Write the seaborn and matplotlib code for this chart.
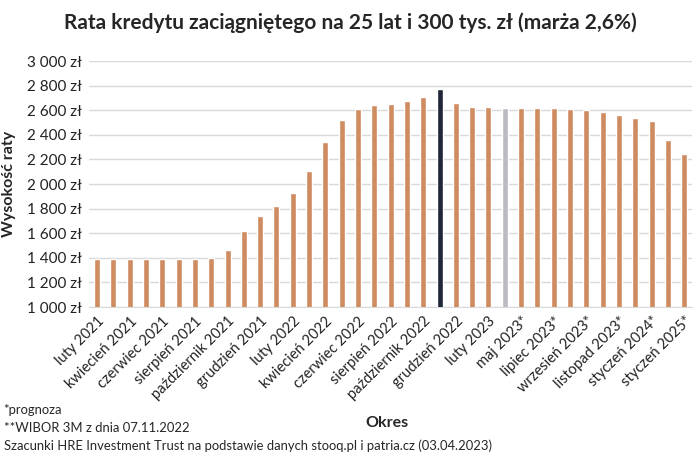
import numpy as np
import pandas as pd
import matplotlib
matplotlib.use("Agg")
import matplotlib.pyplot as plt
import seaborn as sns

# ── Data ─────────────────────────────────────────────────────────────────────
months = [
    "luty 2021", "marzec 2021", "kwiecień 2021", "maj 2021", "czerwiec 2021",
    "lipiec 2021", "sierpień 2021", "wrzesień 2021", "październik 2021",
    "listopad 2021", "grudzień 2021", "styczeń 2022", "luty 2022",
    "marzec 2022", "kwiecień 2022", "maj 2022", "czerwiec 2022", "lipiec 2022",
    "sierpień 2022", "wrzesień 2022", "październik 2022", "listopad 2022**",
    "grudzień 2022", "styczeń 2023", "luty 2023", "kwiecień 2023",
    "maj 2023*", "czerwiec 2023*", "lipiec 2023*", "sierpień 2023*",
    "wrzesień 2023*", "październik 2023*", "listopad 2023*", "grudzień 2023*",
    "styczeń 2024*", "lipiec 2024*", "styczeń 2025*",
]
rata = [
    1392, 1392, 1392, 1392, 1392, 1392, 1392, 1398, 1465, 1620,
    1744, 1825, 1931, 2107, 2342, 2521, 2610, 2643, 2648, 2672,
    2710, 2772, 2659, 2624, 2626, 2621, 2615, 2618, 2618, 2607,
    2600, 2588, 2561, 2537, 2513, 2358, 2242,
]
highlight_dark = "listopad 2022**"
highlight_gray = "kwiecień 2023"

ORANGE = "#CF8C60"
DARK = "#1F2638"
GRAY = "#BCB9C3"

df = pd.DataFrame({"okres": months, "rata": rata})
colors = [DARK if m == highlight_dark else GRAY if m == highlight_gray else ORANGE
          for m in months]

# ── Plot ─────────────────────────────────────────────────────────────────────
sns.set_style("white")
plt.rcParams["font.family"] = ["Lato", "DejaVu Sans"]

fig = plt.figure(figsize=(7, 4.66), dpi=100)
ax = fig.add_axes([0.127, 0.341, 0.862, 0.528])

sns.barplot(data=df, x="okres", y="rata", hue="okres", palette=colors,
            legend=False, width=0.37, saturation=1, ax=ax, zorder=3)

ax.set_ylim(1000, 3000)
ax.set_xlim(-0.5, len(months) - 0.5)
yt = np.arange(1000, 3001, 200)
ax.set_yticks(yt)
ax.set_yticklabels([f"{v:,} zł".replace(",", " ") for v in yt],
                   fontsize=11, color="#222222")
ax.grid(True, axis="y", color="#D9D9D9", linewidth=1, zorder=0)

xt = np.arange(0, len(months), 2)
ax.set_xticks(xt)
ax.set_xticklabels([months[i] for i in xt], rotation=45, ha="right",
                   rotation_mode="anchor", fontsize=10.5, color="#222222")
ax.tick_params(axis="both", length=0, pad=5)

for s in ["top", "right", "left"]:
    ax.spines[s].set_visible(False)
ax.spines["bottom"].set_color("#D9D9D9")

ax.set_xlabel("")
ax.set_ylabel("Wysokość raty", fontsize=11.5, fontweight="bold", labelpad=8)

fig.text(0.5, 0.952, "Rata kredytu zaciągniętego na 25 lat i 300 tys. zł (marża 2,6%)",
         ha="center", va="center", fontsize=15, fontweight="bold")
fig.text(0.553, 0.092, "Okres", ha="center", va="center",
         fontsize=11.5, fontweight="bold")
fig.text(0.005, 0.12, "*prognoza", ha="left", va="center", fontsize=9.4)
fig.text(0.005, 0.082, "**WIBOR 3M z dnia 07.11.2022", ha="left", va="center",
         fontsize=9.4)
fig.text(0.005, 0.043,
         "Szacunki HRE Investment Trust na podstawie danych stooq.pl i patria.cz (03.04.2023)",
         ha="left", va="center", fontsize=9.4)

plt.savefig("out.png", dpi=100, facecolor="white")
